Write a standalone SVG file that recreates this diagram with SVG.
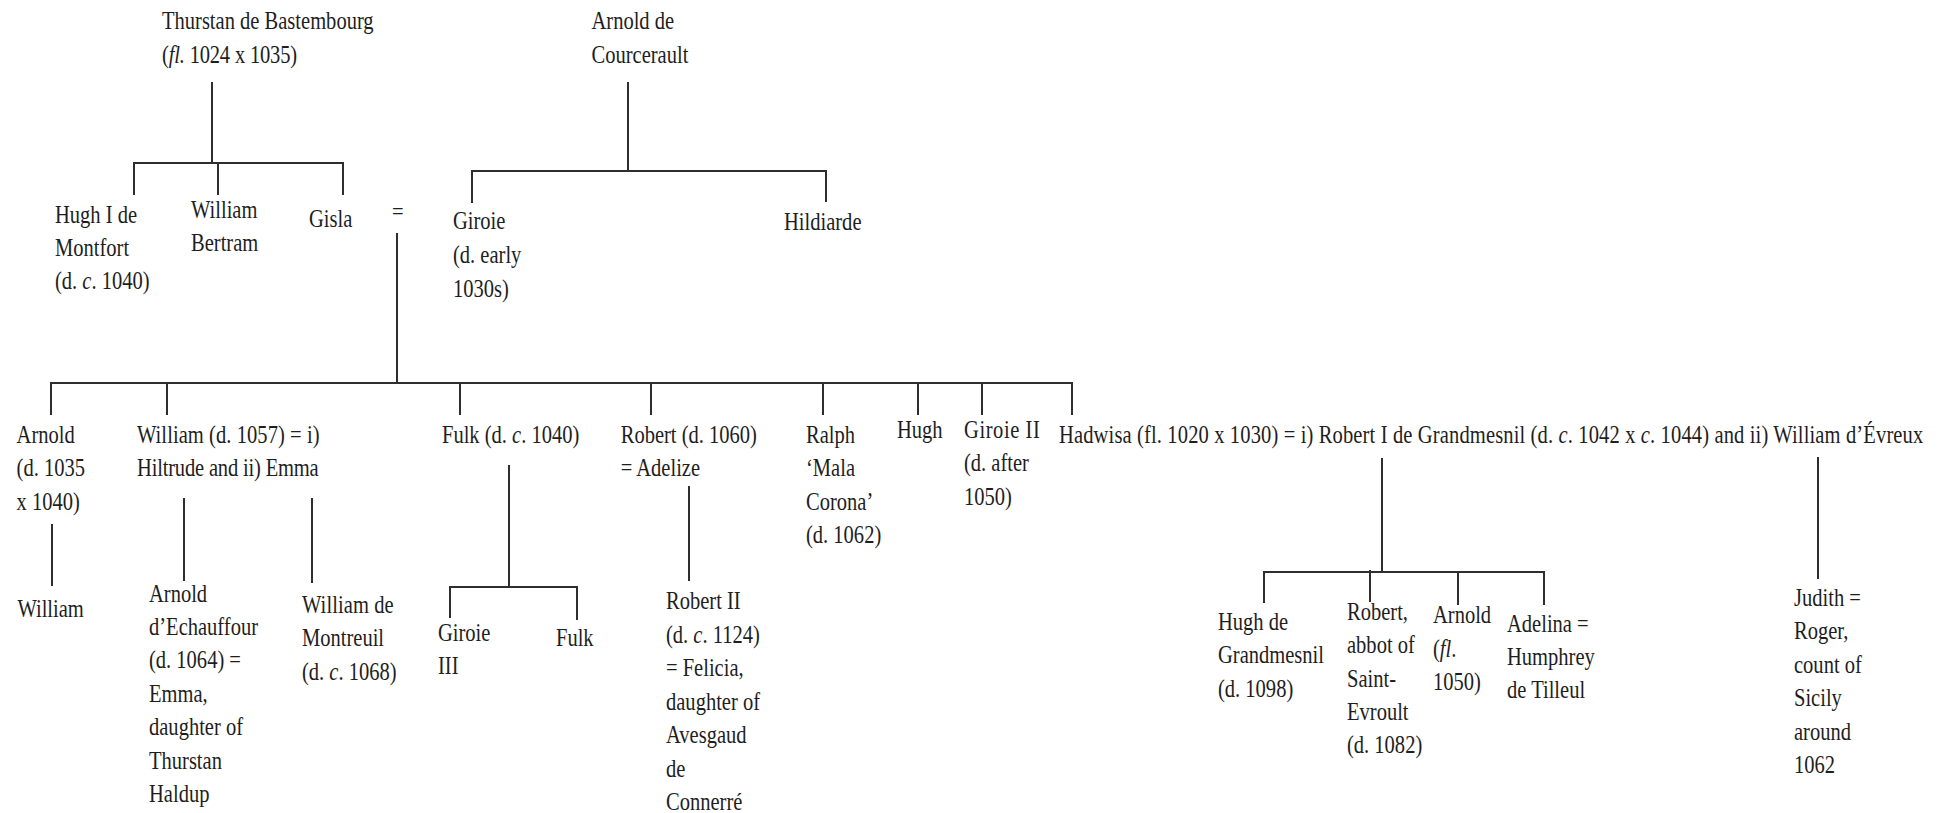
<svg xmlns="http://www.w3.org/2000/svg" width="1939" height="813" viewBox="0 0 1939 813">
<style>
text{font-family:"Liberation Serif","Times New Roman",serif;font-size:26px;fill:#1e1e1e}
.i{font-style:italic}
.c line{stroke:#2e2e2e;stroke-width:2;stroke-linecap:butt}
</style>
<rect width="1939" height="813" fill="#ffffff"/>
<g class="c" id="connectors">
<line x1="212" y1="82" x2="212" y2="163"/>
<line x1="133" y1="163" x2="344" y2="163"/>
<line x1="134" y1="163" x2="134" y2="195"/>
<line x1="218" y1="163" x2="218" y2="195"/>
<line x1="343" y1="163" x2="343" y2="195"/>
<line x1="628" y1="82" x2="628" y2="171"/>
<line x1="471" y1="171" x2="827" y2="171"/>
<line x1="472" y1="171" x2="472" y2="203"/>
<line x1="826" y1="171" x2="826" y2="202"/>
<line x1="397" y1="233" x2="397" y2="383"/>
<line x1="50" y1="383" x2="1073" y2="383"/>
<line x1="51" y1="383" x2="51" y2="415"/>
<line x1="167" y1="383" x2="167" y2="415"/>
<line x1="460" y1="383" x2="460" y2="415"/>
<line x1="651" y1="383" x2="651" y2="415"/>
<line x1="823" y1="383" x2="823" y2="415"/>
<line x1="918" y1="383" x2="918" y2="415"/>
<line x1="982" y1="383" x2="982" y2="415"/>
<line x1="1072" y1="383" x2="1072" y2="415"/>
<line x1="52" y1="524" x2="52" y2="586"/>
<line x1="184" y1="498" x2="184" y2="581"/>
<line x1="312" y1="498" x2="312" y2="583"/>
<line x1="509" y1="465" x2="509" y2="587"/>
<line x1="449" y1="587" x2="578" y2="587"/>
<line x1="450" y1="587" x2="450" y2="618"/>
<line x1="577" y1="587" x2="577" y2="620"/>
<line x1="689" y1="486" x2="689" y2="581"/>
<line x1="1382" y1="458" x2="1382" y2="572"/>
<line x1="1263" y1="572" x2="1545" y2="572"/>
<line x1="1264" y1="572" x2="1264" y2="603"/>
<line x1="1370" y1="570" x2="1370" y2="602"/>
<line x1="1458" y1="572" x2="1458" y2="605"/>
<line x1="1544" y1="572" x2="1544" y2="605"/>
<line x1="1818" y1="457" x2="1818" y2="579"/>
</g>
<g id="thurstan" transform="translate(162 29.3) scale(0.79 1)"><text><tspan x="0">Thurstan de Bastembourg</tspan><tspan x="0" dy="33.4" textLength="171" lengthAdjust="spacing">(<tspan class="i">fl.</tspan> 1024 x 1035)</tspan></text></g>
<g id="arnold-courcerault" transform="translate(591.5 29.3) scale(0.79 1)"><text><tspan x="0">Arnold de</tspan><tspan x="0" dy="33.4">Courcerault</tspan></text></g>
<g id="hugh-montfort" transform="translate(55 222.7) scale(0.79 1)"><text><tspan x="0">Hugh I de</tspan><tspan x="0" dy="33.3">Montfort</tspan><tspan x="0" dy="33.3">(d. <tspan class="i">c</tspan>. 1040)</tspan></text></g>
<g id="william-bertram" transform="translate(191 218) scale(0.79 1)"><text><tspan x="0">William</tspan><tspan x="0" dy="33.5">Bertram</tspan></text></g>
<g id="gisla" transform="translate(309 227) scale(0.79 1)"><text>Gisla</text></g>
<g id="marriage" transform="translate(392 220) scale(0.79 1)"><text>=</text></g>
<g id="giroie" transform="translate(453 229) scale(0.79 1)"><text><tspan x="0">Giroie</tspan><tspan x="0" dy="33.8">(d. early</tspan><tspan x="0" dy="33.8">1030s)</tspan></text></g>
<g id="hildiarde" transform="translate(784 230) scale(0.79 1)"><text>Hildiarde</text></g>
<g id="arnold" transform="translate(16.6 442.7) scale(0.79 1)"><text><tspan x="0">Arnold</tspan><tspan x="0" dy="33.7">(d. 1035</tspan><tspan x="0" dy="33.7">x 1040)</tspan></text></g>
<g id="william-son-of-arnold" transform="translate(17.4 616.7) scale(0.79 1)"><text>William</text></g>
<g id="william-1057" transform="translate(137 442.7) scale(0.79 1)"><text><tspan x="0" textLength="231" lengthAdjust="spacing">William (d. 1057) = i)</tspan><tspan x="0" dy="33.5" textLength="230" lengthAdjust="spacing">Hiltrude and ii) Emma</tspan></text></g>
<g id="arnold-echauffour" transform="translate(149 601.7) scale(0.79 1)"><text><tspan x="0">Arnold</tspan><tspan x="0" dy="33.4">d’Echauffour</tspan><tspan x="0" dy="33.4">(d. 1064) =</tspan><tspan x="0" dy="33.4">Emma,</tspan><tspan x="0" dy="33.4">daughter of</tspan><tspan x="0" dy="33.4">Thurstan</tspan><tspan x="0" dy="33.4">Haldup</tspan></text></g>
<g id="william-montreuil" transform="translate(302 612.7) scale(0.79 1)"><text><tspan x="0" textLength="116" lengthAdjust="spacing">William de</tspan><tspan x="0" dy="33.6">Montreuil</tspan><tspan x="0" dy="33.6">(d. <tspan class="i">c</tspan>. 1068)</tspan></text></g>
<g id="fulk" transform="translate(442 442.7) scale(0.79 1)"><text>Fulk (d. <tspan class="i">c</tspan>. 1040)</text></g>
<g id="giroie-iii" transform="translate(438 640.7) scale(0.79 1)"><text><tspan x="0">Giroie</tspan><tspan x="0" dy="33.4">III</tspan></text></g>
<g id="fulk-son" transform="translate(556 646) scale(0.79 1)"><text>Fulk</text></g>
<g id="robert-1060" transform="translate(620.7 442.7) scale(0.79 1)"><text><tspan x="0">Robert (d. 1060)</tspan><tspan x="0" dy="33.4">= Adelize</tspan></text></g>
<g id="robert-ii" transform="translate(666 609.3) scale(0.79 1)"><text><tspan x="0">Robert II</tspan><tspan x="0" dy="33.5">(d. <tspan class="i">c</tspan>. 1124)</tspan><tspan x="0" dy="33.5">= Felicia,</tspan><tspan x="0" dy="33.5">daughter of</tspan><tspan x="0" dy="33.5">Avesgaud</tspan><tspan x="0" dy="33.5">de</tspan><tspan x="0" dy="33.5">Connerré</tspan></text></g>
<g id="ralph" transform="translate(806 442.7) scale(0.79 1)"><text><tspan x="0">Ralph</tspan><tspan x="0" dy="33.5">‘Mala</tspan><tspan x="0" dy="33.5">Corona’</tspan><tspan x="0" dy="33.5">(d. 1062)</tspan></text></g>
<g id="hugh" transform="translate(897 438) scale(0.79 1)"><text>Hugh</text></g>
<g id="giroie-ii" transform="translate(964 438) scale(0.79 1)"><text><tspan x="0" textLength="96" lengthAdjust="spacing">Giroie II</tspan><tspan x="0" dy="33.5">(d. after</tspan><tspan x="0" dy="33.5">1050)</tspan></text></g>
<g id="hadwisa" transform="translate(1059 442.7) scale(0.79 1)"><text textLength="1094" lengthAdjust="spacing">Hadwisa (fl. 1020 x 1030) = i) Robert I de Grandmesnil (d. <tspan class="i">c</tspan>. 1042 x <tspan class="i">c</tspan>. 1044) and ii) William d’Évreux</text></g>
<g id="hugh-grandmesnil" transform="translate(1218 630) scale(0.79 1)"><text><tspan x="0">Hugh de</tspan><tspan x="0" dy="33.4">Grandmesnil</tspan><tspan x="0" dy="33.4">(d. 1098)</tspan></text></g>
<g id="robert-abbot" transform="translate(1347 620) scale(0.79 1)"><text><tspan x="0">Robert,</tspan><tspan x="0" dy="33.3">abbot of</tspan><tspan x="0" dy="33.3">Saint-</tspan><tspan x="0" dy="33.3">Evroult</tspan><tspan x="0" dy="33.3">(d. 1082)</tspan></text></g>
<g id="arnold-1050" transform="translate(1433 623) scale(0.79 1)"><text><tspan x="0">Arnold</tspan><tspan x="0" dy="33.7">(<tspan class="i">fl</tspan>.</tspan><tspan x="0" dy="33.7">1050)</tspan></text></g>
<g id="adelina" transform="translate(1507 631.7) scale(0.79 1)"><text><tspan x="0">Adelina =</tspan><tspan x="0" dy="33.3">Humphrey</tspan><tspan x="0" dy="33.3">de Tilleul</tspan></text></g>
<g id="judith" transform="translate(1794 606) scale(0.79 1)"><text><tspan x="0">Judith =</tspan><tspan x="0" dy="33.4">Roger,</tspan><tspan x="0" dy="33.4">count of</tspan><tspan x="0" dy="33.4">Sicily</tspan><tspan x="0" dy="33.4">around</tspan><tspan x="0" dy="33.4">1062</tspan></text></g>
</svg>
